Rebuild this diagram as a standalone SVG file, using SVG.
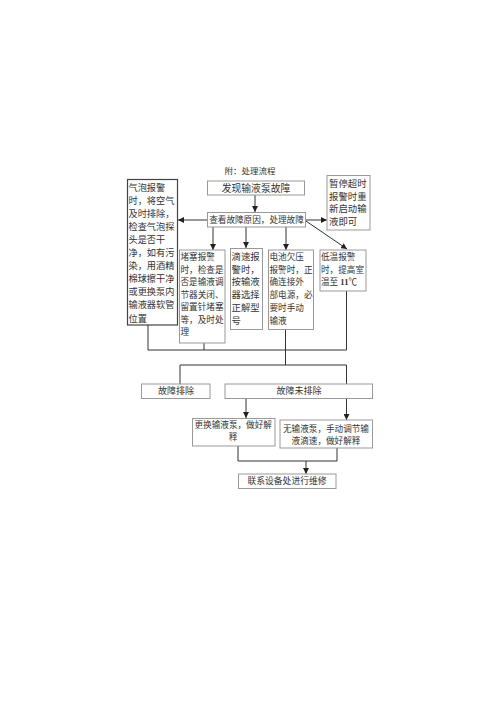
<svg xmlns="http://www.w3.org/2000/svg" width="500" height="708" viewBox="0 0 500 708">
<style>
text{font-family:"Liberation Serif","Noto Sans CJK SC",serif;fill:#333;}
.box{fill:#fff;stroke:#999;stroke-width:1;}
.dark{fill:#fff;stroke:#444;stroke-width:1.2;}
.ln{stroke:#333;stroke-width:1;fill:none;}
.c{text-anchor:middle;}
</style>
<defs>
<marker id="ah" markerUnits="userSpaceOnUse" markerWidth="6" markerHeight="6" refX="6" refY="3" orient="auto">
<path d="M0,0 L6,3 L0,6 z" fill="#222"/>
</marker>
</defs>
<rect width="500" height="708" fill="#fff"/>
<text x="250" y="174" class="c" font-size="8.5" fill="#555">附：处理流程</text>

<g id="connectors">
<line class="ln" x1="255" y1="195" x2="255" y2="212" marker-end="url(#ah)"/>
<line class="ln" x1="207" y1="220" x2="178" y2="220" marker-end="url(#ah)"/>
<line class="ln" x1="306" y1="220" x2="327" y2="220" marker-end="url(#ah)"/>
<line class="ln" x1="303" y1="219" x2="347" y2="249" marker-end="url(#ah)"/>
<line class="ln" x1="213" y1="227" x2="213" y2="250" marker-end="url(#ah)"/>
<line class="ln" x1="246" y1="227" x2="246" y2="248" marker-end="url(#ah)"/>
<line class="ln" x1="286" y1="227" x2="286" y2="250" marker-end="url(#ah)"/>
<line class="ln" x1="148" y1="325" x2="148" y2="350"/>
<line class="ln" x1="204" y1="343" x2="204" y2="350"/>
<line class="ln" x1="346.5" y1="291" x2="346.5" y2="350"/>
<line class="ln" x1="148" y1="350" x2="346.5" y2="350"/>
<line class="ln" x1="285.5" y1="329" x2="285.5" y2="365"/>
<line class="ln" x1="180" y1="365" x2="346.5" y2="365"/>
<line class="ln" x1="180" y1="365" x2="180" y2="384"/>
<line class="ln" x1="346.5" y1="365" x2="346.5" y2="384"/>
<line class="ln" x1="246" y1="398" x2="246" y2="418" marker-end="url(#ah)"/>
<line class="ln" x1="346.5" y1="398" x2="346.5" y2="420" marker-end="url(#ah)"/>
<line class="ln" x1="238" y1="446" x2="238" y2="461"/>
<line class="ln" x1="337" y1="448" x2="337" y2="461"/>
<line class="ln" x1="238" y1="461" x2="337" y2="461"/>
<line class="ln" x1="306" y1="461" x2="306" y2="474" marker-end="url(#ah)"/>
</g>

<g id="n-find">
<rect class="box" x="207.5" y="181" width="97" height="14"/>
<text x="256" y="191.5" class="c" font-size="9.8">发现输液泵故障</text>
</g>

<g id="n-check">
<rect class="box" x="207.5" y="212.5" width="98" height="14.5"/>
<text x="256.5" y="223.3" class="c" font-size="8.6">查看故障原因，处理故障</text>
</g>

<g id="n-bubble">
<rect class="dark" x="127.5" y="179.5" width="50" height="145.5"/>
<g font-size="9.2">
<text x="128.5" y="190.5">气泡报警</text>
<text x="128.5" y="203.6">时，将空气</text>
<text x="128.5" y="216.7">及时排除，</text>
<text x="128.5" y="229.8">检查气泡探</text>
<text x="128.5" y="242.9">头是否干</text>
<text x="128.5" y="256">净，如有污</text>
<text x="128.5" y="269.1">染，用酒精</text>
<text x="128.5" y="282.2">棉球擦干净</text>
<text x="128.5" y="295.3">或更换泵内</text>
<text x="128.5" y="308.4">输液器软管</text>
<text x="128.5" y="321.5">位置</text>
</g>
</g>

<g id="n-timeout">
<rect class="box" x="327" y="175.5" width="43" height="54.5"/>
<g font-size="9.4">
<text x="329" y="187">暂停超时</text>
<text x="329" y="199.5">报警时重</text>
<text x="329" y="212">新启动输</text>
<text x="329" y="224.5">液即可</text>
</g>
</g>

<g id="n-block">
<rect class="box" x="179.5" y="250" width="45.5" height="93"/>
<g font-size="8.6">
<text x="180.5" y="260">堵塞报警</text>
<text x="180.5" y="272.5">时，检查是</text>
<text x="180.5" y="285">否是输液调</text>
<text x="180.5" y="297.5">节器关闭、</text>
<text x="180.5" y="310">留置针堵塞</text>
<text x="180.5" y="322.5">等，及时处</text>
<text x="180.5" y="335">理</text>
</g>
</g>

<g id="n-drip">
<rect class="box" x="230.5" y="248.5" width="32" height="81"/>
<g font-size="9.4">
<text x="231.5" y="260">滴速报</text>
<text x="231.5" y="272.7">警时，</text>
<text x="231.5" y="285.4">按输液</text>
<text x="231.5" y="298.1">器选择</text>
<text x="231.5" y="310.8">正解型</text>
<text x="231.5" y="323.5">号</text>
</g>
</g>

<g id="n-battery">
<rect class="box" x="268.5" y="250" width="45" height="79.5"/>
<g font-size="8.6">
<text x="269.5" y="260">电池欠压</text>
<text x="269.5" y="272.7">报警时，正</text>
<text x="269.5" y="285.4">确连接外</text>
<text x="269.5" y="298.1">部电源，必</text>
<text x="269.5" y="310.8">要时手动</text>
<text x="269.5" y="323.5">输液</text>
</g>
</g>

<g id="n-lowtemp">
<rect class="box" x="320" y="250" width="46" height="41"/>
<g font-size="8.6">
<text x="321" y="260">低温报警</text>
<text x="321" y="272.7">时，提高室</text>
<text x="321" y="285.4">温至 <tspan font-weight="bold">11</tspan>℃</text>
</g>
</g>

<g id="n-solved">
<rect class="box" x="141.5" y="384" width="68.5" height="14.5"/>
<text x="176" y="394.3" class="c" font-size="9">故障排除</text>
</g>

<g id="n-unsolved">
<rect class="box" x="225" y="384" width="147.5" height="14.5"/>
<text x="299" y="394.3" class="c" font-size="9">故障未排除</text>
</g>

<g id="n-replace">
<rect class="box" x="192.5" y="418.5" width="82.5" height="27.5"/>
<g font-size="8.6">
<text x="194.5" y="428.3">更换输液泵，做好解</text>
<text x="233" y="440.3" class="c">释</text>
</g>
</g>

<g id="n-manual">
<rect class="box" x="280" y="420" width="92.5" height="28"/>
<g font-size="8.6">
<text x="326" y="431.5" class="c">无输液泵，手动调节输</text>
<text x="326" y="443.8" class="c">液滴速，做好解释</text>
</g>
</g>

<g id="n-repair">
<rect class="box" x="238.5" y="474" width="97.5" height="14.5"/>
<text x="287" y="484.3" class="c" font-size="8.8">联系设备处进行维修</text>
</g>
</svg>
